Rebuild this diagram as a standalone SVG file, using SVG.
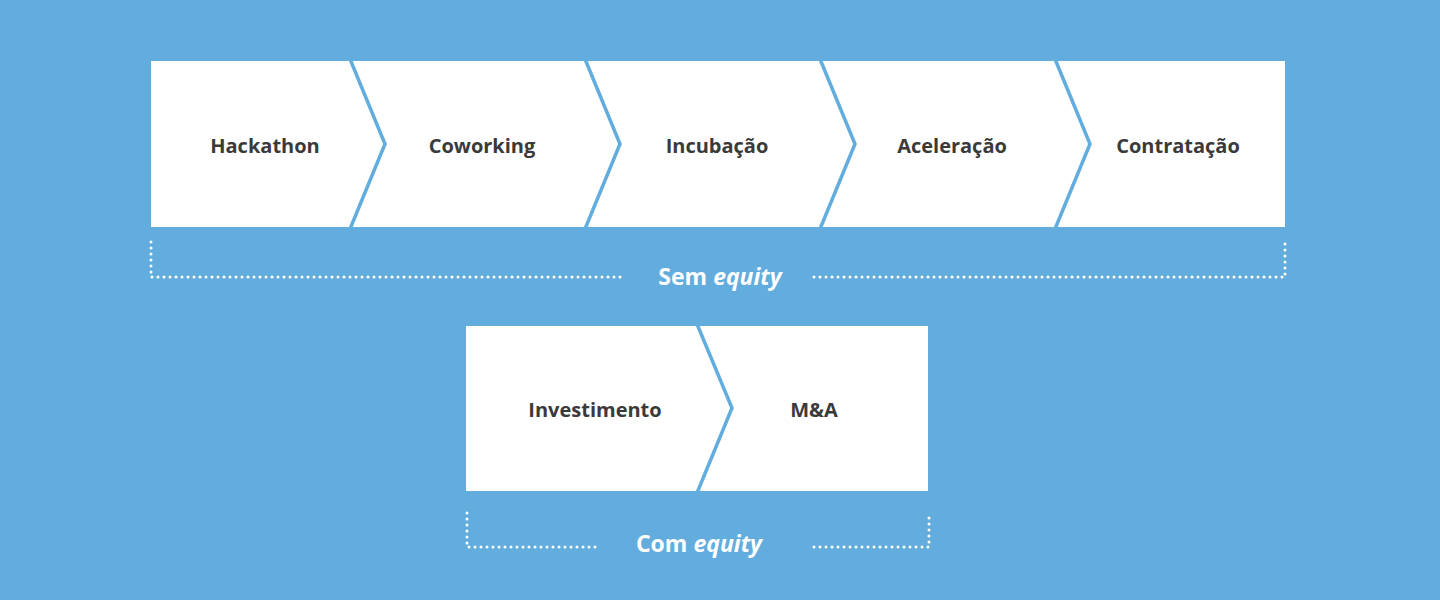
<svg xmlns="http://www.w3.org/2000/svg" width="1440" height="600" viewBox="0 0 1440 600">
<style>
.box{fill:#fff}
.div{fill:none;stroke:#62ADDE;stroke-width:3.5}
.lbl{font-family:"Open Sans","DejaVu Sans",sans-serif;font-weight:bold;font-size:20px;fill:#3a3a3a;text-anchor:middle}
.dot{fill:none;stroke:#fff;stroke-width:3;stroke-linecap:round;stroke-dasharray:0 6}
.cap{font-family:"Open Sans","DejaVu Sans",sans-serif;font-weight:bold;font-size:23px;fill:#fff;text-anchor:middle}
</style>
<rect width="1440" height="600" fill="#62ADDE"/>
<g id="row1"><rect class="box" x="151" y="61" width="1134" height="166"/></g>
<g id="row2"><rect class="box" x="466" y="326" width="462" height="165"/></g>
<g id="connectors">
<polyline class="div" points="350,59 385,144 350,229"/>
<polyline class="div" points="585,59 620,144 585,229"/>
<polyline class="div" points="820,59 855,144 820,229"/>
<polyline class="div" points="1055,59 1090,144 1055,229"/>
<polyline class="div" points="697,324 732,408 697,493"/>
</g>
<g id="n1"><text class="lbl" x="265" y="153">Hackathon</text></g>
<g id="n2"><text class="lbl" x="482" y="153">Coworking</text></g>
<g id="n3"><text class="lbl" x="717" y="153">Incubação</text></g>
<g id="n4"><text class="lbl" x="952" y="153">Aceleração</text></g>
<g id="n5"><text class="lbl" x="1178" y="153">Contratação</text></g>
<g id="n6"><text class="lbl" x="595" y="417">Investimento</text></g>
<g id="n7"><text class="lbl" x="814" y="417">M&amp;A</text></g>
<g id="brackets">
<polyline class="dot" points="151,242 151,277 622,277"/>
<polyline class="dot" points="814,277 1285,277 1285,242"/>
<polyline class="dot" points="467,513 467,547 597,547"/>
<polyline class="dot" points="814,547 929,547 929,513"/>
<text class="cap" x="720" y="285">Sem <tspan font-style="italic">equity</tspan></text>
<text class="cap" x="699" y="552">Com <tspan font-style="italic">equity</tspan></text>
</g>
</svg>
